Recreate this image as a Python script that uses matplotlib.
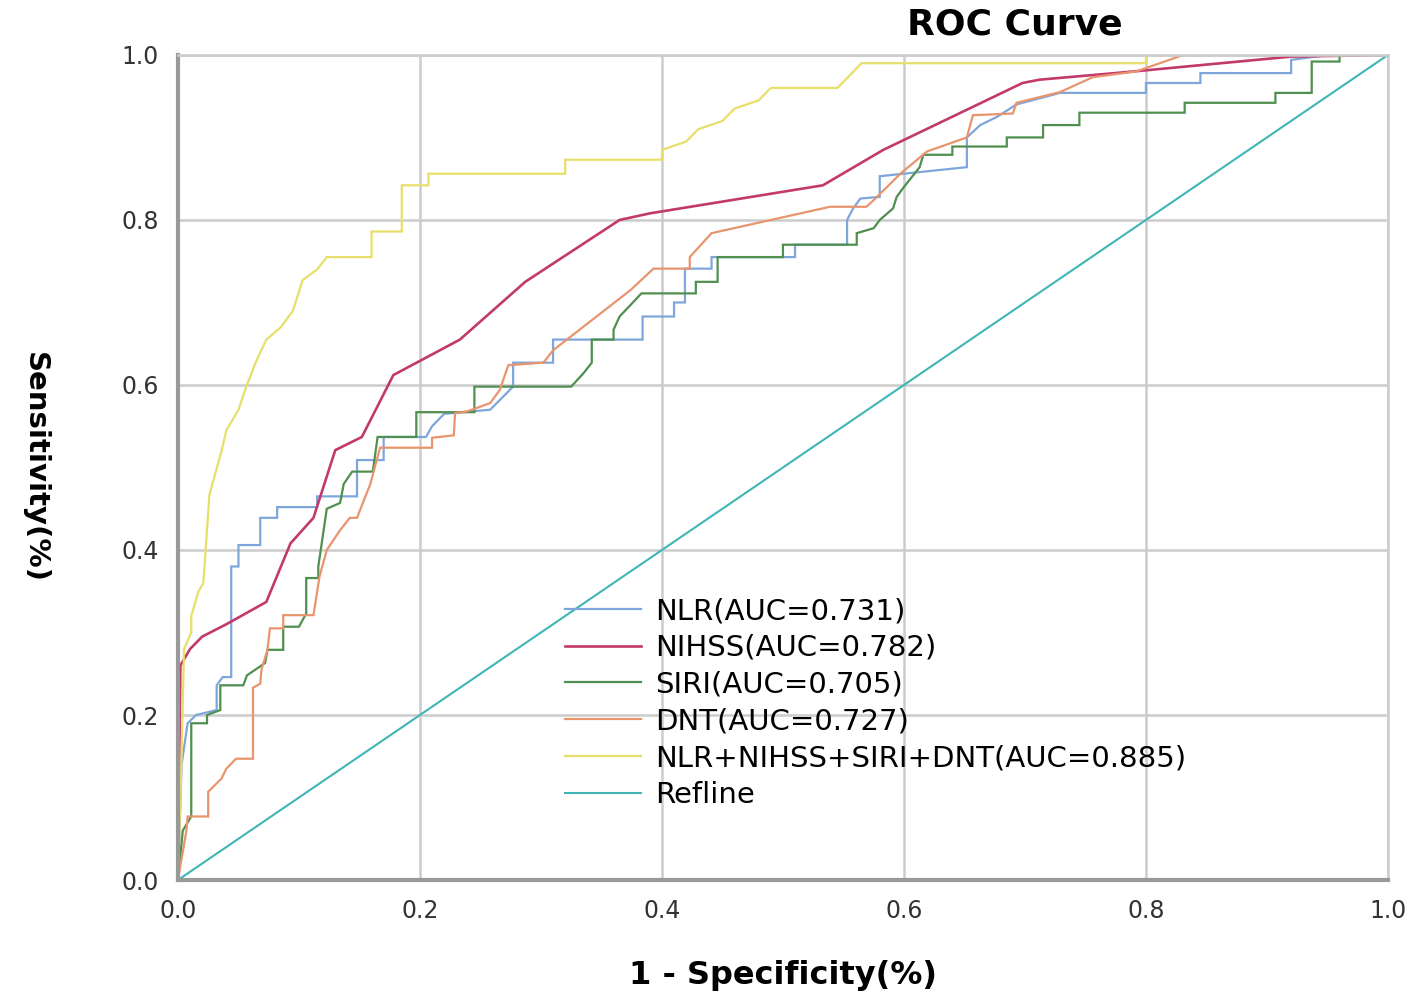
import matplotlib
matplotlib.use('Agg')
import matplotlib.pyplot as plt

# ROC vertices (1 - specificity, sensitivity)
nlr_fpr = [0, 0.003, 0.008, 0.015, 0.032, 0.032, 0.037, 0.044, 0.044, 0.05, 0.05, 0.068, 0.068,
           0.082, 0.082, 0.115, 0.115, 0.148, 0.148, 0.17, 0.17, 0.205, 0.21, 0.22, 0.258,
           0.277, 0.277, 0.31, 0.31, 0.384, 0.384, 0.41, 0.41, 0.419, 0.419, 0.441, 0.441,
           0.51, 0.51, 0.553, 0.553, 0.558, 0.564, 0.58, 0.58, 0.652, 0.652, 0.663, 0.677,
           0.693, 0.729, 0.80, 0.80, 0.845, 0.845, 0.92, 0.92, 0.95, 1.0]
nlr_tpr = [0, 0.14, 0.19, 0.2, 0.206, 0.236, 0.246, 0.246, 0.38, 0.38, 0.406, 0.406, 0.439,
           0.439, 0.452, 0.452, 0.465, 0.465, 0.509, 0.509, 0.537, 0.537, 0.55, 0.565, 0.57,
           0.598, 0.627, 0.627, 0.655, 0.655, 0.683, 0.683, 0.70, 0.70, 0.741, 0.741, 0.755,
           0.755, 0.77, 0.77, 0.80, 0.814, 0.826, 0.828, 0.853, 0.864, 0.90, 0.915, 0.925,
           0.94, 0.954, 0.954, 0.966, 0.966, 0.978, 0.978, 0.994, 1.0, 1.0]

nihss_fpr = [0, 0.002, 0.01, 0.02, 0.04, 0.073, 0.093, 0.112, 0.13, 0.152, 0.178, 0.233,
             0.287, 0.365, 0.39, 0.533, 0.583, 0.698, 0.712, 0.79, 0.92, 1.0]
nihss_tpr = [0, 0.26, 0.28, 0.295, 0.31, 0.337, 0.408, 0.439, 0.521, 0.537, 0.612, 0.655,
             0.725, 0.80, 0.808, 0.842, 0.885, 0.966, 0.97, 0.98, 0.998, 1.0]

siri_fpr = [0, 0.004, 0.011, 0.011, 0.024, 0.024, 0.035, 0.035, 0.054, 0.057, 0.072, 0.074,
            0.087, 0.087, 0.1, 0.106, 0.106, 0.116, 0.116, 0.123, 0.134, 0.137, 0.144, 0.161,
            0.165, 0.197, 0.197, 0.245, 0.245, 0.325, 0.335, 0.342, 0.342, 0.36, 0.36, 0.365,
            0.376, 0.383, 0.428, 0.428, 0.446, 0.446, 0.50, 0.50, 0.561, 0.561, 0.575, 0.58,
            0.591, 0.594, 0.60, 0.613, 0.616, 0.64, 0.64, 0.685, 0.685, 0.715, 0.715, 0.745,
            0.745, 0.832, 0.832, 0.907, 0.907, 0.937, 0.937, 0.96, 0.96, 1.0]
siri_tpr = [0, 0.06, 0.077, 0.19, 0.19, 0.2, 0.206, 0.236, 0.236, 0.248, 0.263, 0.279,
            0.279, 0.307, 0.307, 0.323, 0.366, 0.366, 0.38, 0.45, 0.457, 0.48, 0.495, 0.495,
            0.537, 0.537, 0.567, 0.567, 0.598, 0.598, 0.614, 0.627, 0.655, 0.655, 0.667, 0.683,
            0.70, 0.711, 0.711, 0.725, 0.725, 0.755, 0.755, 0.77, 0.77, 0.784, 0.79, 0.80,
            0.814, 0.828, 0.84, 0.864, 0.879, 0.879, 0.889, 0.889, 0.90, 0.90, 0.915, 0.915,
            0.93, 0.93, 0.942, 0.942, 0.954, 0.954, 0.992, 0.992, 1.0, 1.0]

dnt_fpr = [0, 0.007, 0.008, 0.025, 0.025, 0.036, 0.04, 0.048, 0.062, 0.062, 0.068, 0.069,
           0.074, 0.076, 0.087, 0.087, 0.112, 0.117, 0.123, 0.134, 0.142, 0.148, 0.159, 0.167,
           0.21, 0.21, 0.228, 0.229, 0.239, 0.258, 0.266, 0.273, 0.302, 0.31, 0.374, 0.393,
           0.423, 0.423, 0.441, 0.539, 0.569, 0.575, 0.597, 0.619, 0.652, 0.657, 0.69, 0.693,
           0.729, 0.756, 0.792, 0.831, 1.0]
dnt_tpr = [0, 0.06, 0.077, 0.077, 0.107, 0.123, 0.135, 0.147, 0.147, 0.233, 0.238, 0.255,
           0.279, 0.305, 0.305, 0.321, 0.321, 0.368, 0.40, 0.424, 0.439, 0.439, 0.48, 0.524,
           0.524, 0.536, 0.539, 0.566, 0.568, 0.578, 0.594, 0.624, 0.627, 0.642, 0.715, 0.741,
           0.741, 0.755, 0.784, 0.816, 0.816, 0.824, 0.856, 0.883, 0.90, 0.927, 0.929, 0.942,
           0.955, 0.973, 0.98, 1.0, 1.0]

comb_fpr = [0, 0.003, 0.005, 0.011, 0.011, 0.017, 0.021, 0.026, 0.036, 0.04, 0.05, 0.057,
            0.065, 0.073, 0.085, 0.095, 0.103, 0.115, 0.123, 0.16, 0.16, 0.185, 0.185, 0.207,
            0.207, 0.32, 0.32, 0.40, 0.40, 0.42, 0.43, 0.45, 0.46, 0.48, 0.49, 0.545, 0.555,
            0.565, 0.80, 0.80, 1.0]
comb_tpr = [0, 0.15, 0.28, 0.30, 0.32, 0.35, 0.36, 0.467, 0.52, 0.545, 0.57, 0.60,
            0.63, 0.655, 0.67, 0.69, 0.727, 0.74, 0.755, 0.755, 0.786, 0.786, 0.842, 0.842,
            0.856, 0.856, 0.873, 0.873, 0.885, 0.895, 0.91, 0.92, 0.935, 0.945, 0.96, 0.96,
            0.975, 0.99, 0.99, 1.0, 1.0]

ref_x = [0, 1]
ref_y = [0, 1]

labels = ['NLR(AUC=0.731)', 'NIHSS(AUC=0.782)', 'SIRI(AUC=0.705)', 'DNT(AUC=0.727)',
          'NLR+NIHSS+SIRI+DNT(AUC=0.885)', 'Refline']
colors = ['#7fa6dc', '#c23a6a', '#4f8f4f', '#e8956e', '#e8df6a', '#3fb5b5']
ticks = [0.0, 0.2, 0.4, 0.6, 0.8, 1.0]

fig = plt.figure(figsize=(14.18, 9.99), dpi=100)
ax = fig.add_axes([0.1255, 0.1191, 0.8533, 0.8259])

curves = [(nlr_fpr, nlr_tpr), (nihss_fpr, nihss_tpr), (siri_fpr, siri_tpr),
          (dnt_fpr, dnt_tpr), (comb_fpr, comb_tpr), (ref_x, ref_y)]
widths = [1.6, 1.9, 1.6, 1.6, 1.6, 1.5]
for (xs, ys), lab, col, lw in zip(curves, labels, colors, widths):
    ax.plot(xs, ys, color=col, lw=lw, label=lab, solid_joinstyle='miter')

ax.set_xlim(0, 1)
ax.set_ylim(0, 1)
ax.set_xticks(ticks)
ax.set_yticks(ticks)
ax.set_xticklabels(['%.1f' % t for t in ticks])
ax.set_yticklabels(['%.1f' % t for t in ticks])
ax.tick_params(length=0, labelsize=17, labelcolor='#333333', pad=14)
ax.grid(True, color='#cccccc', lw=1.8)
ax.set_axisbelow(True)
for side in ['top', 'right']:
    ax.spines[side].set_color('#cccccc')
    ax.spines[side].set_linewidth(1.8)
for side in ['left', 'bottom']:
    ax.spines[side].set_color('#999999')
    ax.spines[side].set_linewidth(3)

ax.set_xlabel('1 - Specificity(%)', fontsize=23, fontweight='bold', labelpad=26)
ax.set_ylabel('Sensitivity(%)', fontsize=21, fontweight='bold', rotation=-90,
              labelpad=62, va='center')
fig.text(0.716, 0.975, 'ROC Curve', fontsize=26, fontweight='bold', ha='center', va='center')

ax.legend(loc='center left', bbox_to_anchor=(0.32, 0.2145), frameon=False, fontsize=21,
          handlelength=2.6, handletextpad=0.5, labelspacing=0.3, borderpad=0,
          borderaxespad=0)

fig.savefig('out.png', dpi=100)
